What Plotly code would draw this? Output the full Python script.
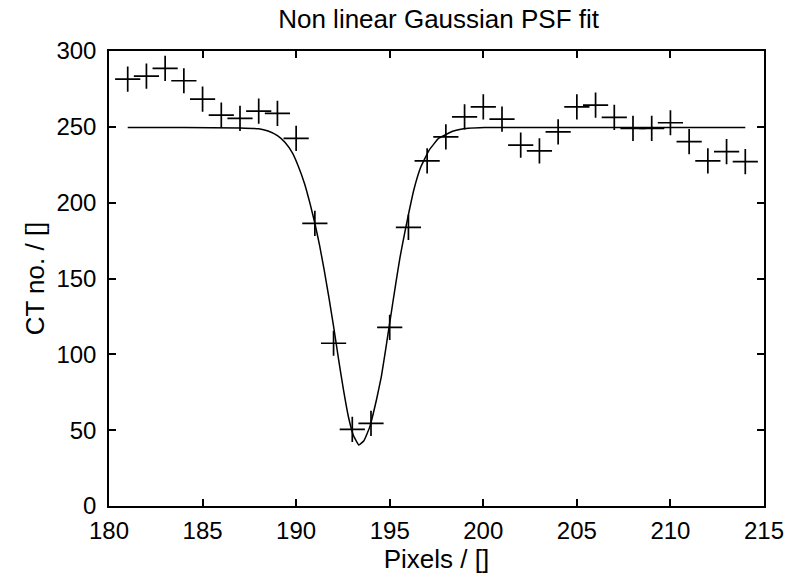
import plotly.graph_objects as go

# Measured data points (pixel position vs CT number)
pixels = list(range(181, 215))
ct_values = [281.5, 283.5, 288.5, 280.4, 268.3, 257.7, 255.6, 260.4, 258.9, 242.4,
             186.4, 107.3, 50.5, 54.5, 117.8, 183.7, 227.6, 243.4, 256.6, 263.2,
             255.1, 238.0, 234.2, 246.7, 263.2, 264.3, 256.2, 249.0, 249.0, 252.7,
             240.2, 227.6, 233.6, 227.0]

# Fitted curve
fit_x = [181.0, 184.0, 187.0, 188.0, 188.5, 189.0, 189.4, 189.8, 190.1, 190.45,
         190.75, 191.0, 191.25, 191.5, 191.75, 192.0, 192.27, 192.53, 192.79,
         193.06, 193.35, 193.62, 193.93, 194.29, 194.55, 194.78, 194.99, 195.17,
         195.34, 195.55, 195.83, 196.04, 196.30, 196.66, 197.10, 197.62, 198.41,
         199.2, 200.08, 205.0, 210.0, 214.0]
fit_y = [249.5, 249.5, 249.3, 248.7, 247.2, 244.2, 239.8, 232.8, 224.5, 212.5,
         199.0, 186.4, 172.0, 155.5, 137.5, 118.5, 96.5, 76.5, 59.0,
         46.5, 40.2, 43.0, 52.0, 69.9, 85.2, 103.0, 120.0, 134.5,
         148.0, 164.0, 181.9, 194.5, 209.0, 223.5, 234.5, 242.5, 247.2,
         249.0, 249.6, 249.6, 249.6, 249.6]

x_ticks = [180, 185, 190, 195, 200, 205, 210, 215]
y_ticks = [0, 50, 100, 150, 200, 250, 300]

FONT = "Arial, Liberation Sans, sans-serif"

fig = go.Figure()
fig.add_trace(go.Scatter(
    x=pixels, y=ct_values, mode="markers",
    marker=dict(symbol="cross-thin", size=18, color="black",
                line=dict(color="black", width=1.7)),
    showlegend=False))
fig.add_trace(go.Scatter(
    x=fit_x, y=fit_y, mode="lines",
    line=dict(color="black", width=1.5, shape="spline", smoothing=0.3),
    showlegend=False))

axis_common = dict(
    showgrid=False, zeroline=False, showline=True, linecolor="black",
    linewidth=1.5, mirror="ticks", ticks="inside", ticklen=7, tickwidth=1.5,
    tickcolor="black", tickfont=dict(family=FONT, size=24, color="black"),
)
fig.update_xaxes(range=[180, 215], tickvals=x_ticks,
                 ticktext=[str(v) for v in x_ticks],
                 ticklabelstandoff=2,
                 title=dict(text="Pixels / []", font=dict(family=FONT, size=26, color="black"),
                            standoff=6),
                 **axis_common)
fig.update_yaxes(range=[0, 300], tickvals=y_ticks,
                 ticktext=[str(v) for v in y_ticks],
                 ticklabelstandoff=6,
                 title=dict(text="CT no. / []", font=dict(family=FONT, size=26, color="black"),
                            standoff=4),
                 **axis_common)

fig.update_layout(
    width=796, height=581,
    margin=dict(l=109, r=23, t=51, b=75),
    paper_bgcolor="white", plot_bgcolor="white",
    title=dict(text="Non linear Gaussian PSF fit", x=0.551, xanchor="center",
               y=0.967, yanchor="middle",
               font=dict(family=FONT, size=26, color="black")),
)

fig.write_html("out.html")
